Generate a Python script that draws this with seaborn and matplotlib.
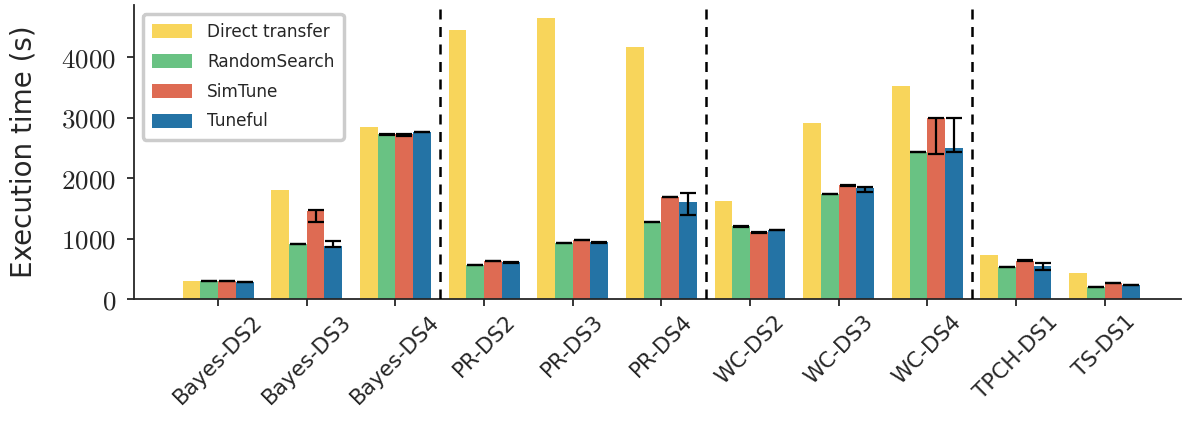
import numpy as np
import pandas as pd
import matplotlib
matplotlib.use("Agg")
import matplotlib.pyplot as plt
from matplotlib.ticker import FuncFormatter
import seaborn as sns

categories = ["Bayes-DS2", "Bayes-DS3", "Bayes-DS4", "PR-DS2", "PR-DS3", "PR-DS4",
              "WC-DS2", "WC-DS3", "WC-DS4", "TPCH-DS1", "TS-DS1"]
methods = ["Direct transfer", "RandomSearch", "SimTune", "Tuneful"]

direct_transfer = [300, 1800, 2843, 4446, 4645, 4165, 1620, 2909, 3521, 727, 430]
random_search = [300, 915, 2722, 562, 931, 1273, 1201, 1736, 2435, 529, 204]
simtune = [300, 1455, 2722, 628, 975, 1691, 1102, 1884, 2992, 633, 264]
tuneful = [285, 876, 2760, 612, 942, 1603, 1140, 1835, 2496, 551, 231]

# asymmetric error amounts (below, above) per method; Direct transfer has none
random_err_lo = [3, 3, 3, 3, 3, 3, 3, 3, 3, 3, 3]
random_err_hi = [3, 3, 3, 3, 3, 3, 3, 3, 3, 3, 3]
simtune_err_lo = [3, 187, 20, 5, 3, 3, 3, 10, 595, 5, 5]
simtune_err_hi = [3, 20, 5, 5, 3, 3, 3, 5, 3, 5, 5]
tuneful_err_lo = [3, 11, 5, 20, 8, 220, 5, 61, 61, 66, 3]
tuneful_err_hi = [3, 83, 10, 8, 8, 149, 5, 16, 501, 49, 3]

colors = ["#F8D55B", "#69C283", "#DE6B53", "#2473A5"]

df = pd.DataFrame({
    "category": categories * 4,
    "method": sum([[m] * len(categories) for m in methods], []),
    "time": direct_transfer + random_search + simtune + tuneful,
})

plt.rcParams["mathtext.fontset"] = "cm"
sns.set_style("ticks")
plt.rcParams["font.family"] = ["DejaVu Sans"]

fig, ax = plt.subplots(figsize=(11.82, 4.26), dpi=100)
fig.subplots_adjust(left=0.1135, right=0.999, top=0.988, bottom=0.298)

sns.barplot(data=df, x="category", y="time", hue="method", order=categories,
            hue_order=methods, palette=colors, saturation=1, width=0.8,
            errorbar=None, linewidth=0, edgecolor="none", ax=ax)

errs = [None, (random_err_lo, random_err_hi), (simtune_err_lo, simtune_err_hi),
        (tuneful_err_lo, tuneful_err_hi)]
for cont, err in zip(ax.containers, errs):
    if err is None:
        continue
    xs = [b.get_x() + b.get_width() / 2 for b in cont]
    ys = [b.get_height() for b in cont]
    ax.errorbar(xs, ys, yerr=[err[0], err[1]], fmt="none", ecolor="black",
                elinewidth=1.6, capsize=6, capthick=1.6, zorder=5)

for xv in [2.5, 5.5, 8.5]:
    ax.axvline(xv, color="black", linestyle=(0, (4, 3)), linewidth=1.8, zorder=6)

ax.set_xlim(-0.947, 10.86)
ax.set_ylim(0, 4860)
ax.set_yticks([0, 1000, 2000, 3000, 4000])
ax.yaxis.set_major_formatter(FuncFormatter(lambda v, p: f"${int(v)}$"))
ax.tick_params(axis="y", labelsize=19.5, width=1.3, length=5, pad=8)
ax.tick_params(axis="x", labelsize=15.5, width=1.3, length=5, pad=4)
plt.setp(ax.get_xticklabels(), rotation=45, ha="center")
ax.set_xlabel("")
ax.set_ylabel("Execution time (s)", fontsize=20, labelpad=17)
for s in ["left", "bottom"]:
    ax.spines[s].set_linewidth(1.3)
sns.despine(ax=ax)

leg = ax.legend(loc="upper left", fontsize=12.2, frameon=True, fancybox=True,
                handlelength=2.35, handleheight=0.88, labelspacing=0.7,
                borderpad=0.55, handletextpad=0.9, borderaxespad=0.5)
leg.get_frame().set_edgecolor("0.8")
leg.get_frame().set_linewidth(2.5)
leg.get_frame().set_alpha(1)

fig.savefig("out.png", dpi=100)
